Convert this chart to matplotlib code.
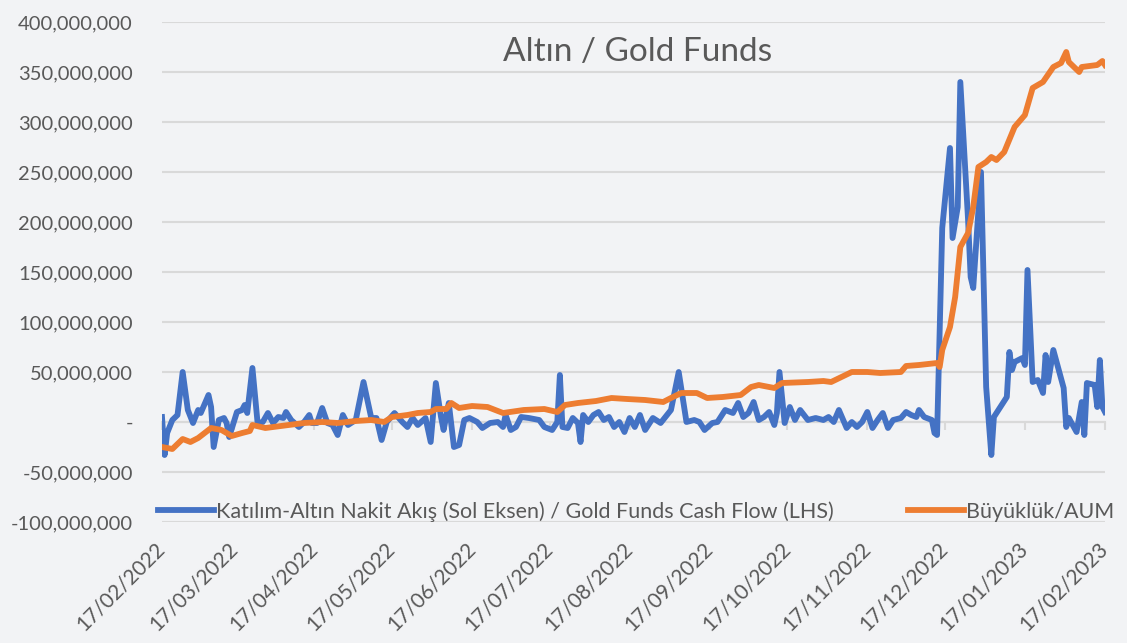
import pandas as pd
import matplotlib
matplotlib.use("Agg")
import matplotlib.pyplot as plt
import matplotlib.dates as mdates
from matplotlib.ticker import FuncFormatter

# days since 17/02/2022, values in millions TRY
flow_days = [0, 1, 2, 4, 6, 8, 10, 12, 14, 15, 18, 19, 20, 22, 24, 25, 26, 29, 31, 32,
             33, 35, 37, 39, 41, 43, 45, 47, 48, 50, 53, 55, 57, 58, 60, 62, 64, 66, 68, 70,
             72, 75, 78, 81, 83, 85, 87, 90, 93, 95, 97, 99, 102, 104, 106, 108, 109, 111, 113, 115,
             117, 119, 122, 124, 127, 130, 132, 133, 135, 137, 139, 142, 146, 148, 151, 153, 154, 155, 157, 159,
             161, 162, 163, 165, 167, 169, 171, 173, 175, 177, 179, 181, 183, 185, 187, 190, 193, 197, 200, 203,
             206, 208, 210, 213, 215, 218, 221, 223, 225, 227, 229, 231, 233, 235, 237, 238, 239, 241, 243, 245,
             247, 250, 253, 256, 258, 260, 262, 265, 267, 269, 271, 273, 275, 277, 279, 281, 283, 286, 288, 290,
             292, 293, 295, 298, 299, 300, 302, 305, 306, 308, 309, 312, 313, 314, 317, 319, 321, 322, 327, 328,
             329, 330, 333, 334, 335, 337, 339, 341, 342, 343, 345, 349, 350, 351, 354, 356, 357, 358, 361, 362,
             363, 364, 365]
flow_vals = [5, -33, -11, 2, 7, 50, 12, -1, 12, 9, 27, 15, -25, 2, 4, -1, -15, 10, 12, 17,
             9, 54, -1, 0, 9, -1, 5, 4, 10, 2, -5, 0, 7, -1, -1, 14, -1, -3, -13, 7,
             -3, 2, 40, 4, 4, -18, 0, 9, 0, -5, 4, -3, 4, -20, 39, 5, -8, 19, -25, -23,
             2, 4, 0, -6, -1, 0, -5, 7, -8, -5, 5, 4, 2, -5, -8, 0, 47, -5, -6, 4,
             -1, -20, 7, 0, 7, 10, 2, 5, -5, 0, -10, 4, -5, 7, -8, 4, -1, 12, 50, 0,
             2, 0, -8, -1, 0, 12, 9, 19, 5, 9, 20, 2, 5, 10, -3, 9, 50, -1, 15, 2,
             12, 2, 4, 2, 5, 0, 12, -6, 0, -5, 0, 10, -6, 2, 9, -6, 2, 4, 10, 7,
             5, 12, 5, 2, -11, -13, 194, 274, 184, 215, 340, 202, 145, 134, 250, 35, -33, 5, 25, 70,
             52, 60, 64, 57, 152, 40, 42, 29, 67, 40, 72, 34, -5, 4, -10, 20, -13, 39, 37, 15,
             62, 15, 10]

aum_days = [0, 4, 8, 11, 14, 19, 23, 27, 31, 34, 35, 40, 49, 55, 62, 68, 75, 81, 86, 89,
            95, 99, 104, 106, 110, 112, 115, 120, 126, 132, 140, 148, 153, 156, 161, 168, 174, 180, 187, 194,
            197, 201, 207, 211, 217, 224, 228, 231, 237, 240, 250, 256, 259, 267, 273, 278, 286, 288, 293, 300,
            301, 302, 305, 307, 309, 312, 314, 316, 319, 321, 323, 326, 330, 334, 337, 341, 345, 348, 350, 351,
            355, 356, 362, 364, 365]
aum_vals = [-25, -27, -17, -20, -16, -6, -8, -14, -11, -9, -3, -6, -3, -1, 0, -1, 1, 2, 0, 5,
            7, 9, 10, 13, 13, 19, 14, 16, 15, 9, 12, 13, 10, 17, 19, 21, 24, 23, 22, 20,
            24, 29, 29, 24, 25, 27, 35, 37, 34, 39, 40, 41, 40, 50, 50, 49, 50, 56, 57, 59,
            55, 72, 95, 125, 175, 189, 215, 255, 260, 265, 262, 270, 295, 307, 334, 340, 355, 359, 370, 360,
            350, 355, 357, 361, 357]

start = pd.Timestamp("2022-02-17")
month_ticks = pd.date_range("2022-02-01", "2023-02-01", freq="MS") + pd.Timedelta(days=16)

blue = "#4472C4"
orange = "#ED7D31"
txt = "#595959"
grid = "#d9d9d9"
bg = "#f2f3f5"

plt.rcParams["font.family"] = ["Lato", "DejaVu Sans"]

fig = plt.figure(figsize=(11.27, 6.43), dpi=100, facecolor=bg)
ax = fig.add_axes([162/1127, 121/643, 943/1127, 500/643], facecolor=bg)

fx = mdates.date2num(start + pd.to_timedelta(flow_days, unit="D"))
ox = mdates.date2num(start + pd.to_timedelta(aum_days, unit="D"))
ax.plot(fx, [v * 1e6 for v in flow_vals], color=blue, lw=4.2, solid_joinstyle="round",
        label="Katılım-Altın Nakit Akış (Sol Eksen) / Gold Funds Cash Flow (LHS)", zorder=3)
ax.plot(ox, [v * 1e6 for v in aum_vals], color=orange, lw=4.2, solid_joinstyle="round",
        label="Büyüklük/AUM", zorder=3)

tnum = mdates.date2num(month_ticks)
ax.set_xlim(tnum[0], tnum[-1])
ax.set_ylim(-100e6, 400e6)
ax.set_yticks(range(-100000000, 400000001, 50000000))
ax.yaxis.set_major_formatter(FuncFormatter(lambda v, p: "-" if v == 0 else f"{v:,.0f}"))
ax.grid(axis="y", color=grid, lw=1.5, zorder=0)
ax.set_axisbelow(True)
for s in ax.spines.values():
    s.set_visible(False)
ax.tick_params(axis="y", length=0, labelsize=14.5, labelcolor=txt, pad=21)

ax.set_xticks(tnum)
ax.set_xticklabels([d.strftime("%d/%m/%Y") for d in month_ticks])
ax.tick_params(axis="x", length=0, labelsize=15, labelcolor=txt, pad=17)
for lab in ax.get_xticklabels():
    lab.set_rotation(45)
    lab.set_ha("right")
    lab.set_va("center")
    lab.set_rotation_mode("anchor")

# zero line with small tick marks
sec = ax.secondary_xaxis(0.2)
sec.set_xticks(tnum)
sec.tick_params(length=6, width=1.5, color=grid, labelbottom=False)
sec.spines["bottom"].set_color(grid)
sec.spines["bottom"].set_linewidth(1.5)

ax.text(0.504, 0.94, "Altın / Gold Funds", transform=ax.transAxes, ha="center", va="center",
        fontsize=24, color=txt)

ax.legend(loc="lower left", bbox_to_anchor=(-0.004, 0.0, 1.014, 0.05), mode="expand", ncol=2,
          frameon=False, borderaxespad=0, borderpad=0, fontsize=15.5, labelcolor=txt,
          handlelength=2.6, handletextpad=0.1)

fig.savefig("out.png", dpi=100, facecolor=bg)
